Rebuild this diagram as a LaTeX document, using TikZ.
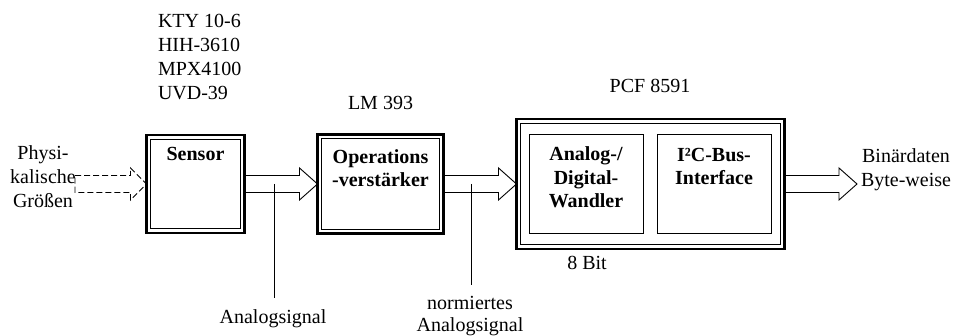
\documentclass[tikz,border=0pt]{standalone}
\usepackage{fontspec}
\setmainfont{Liberation Serif}
\usetikzlibrary{calc}

\tikzset{
  every node/.style={inner sep=0pt, outer sep=0pt,
    font=\fontsize{20}{23.5}\selectfont},
  blockbox/.style={draw, line width=2.8pt},
  innerbox/.style={draw, line width=0.9pt},
  boxtitle/.style={align=center, anchor=base,
    font=\fontsize{20}{23.5}\selectfont\bfseries},
  caption/.style={align=center, anchor=base},
  hollowarrow/.style={draw, line width=0.9pt, line join=miter},
  leader/.style={draw, line width=0.9pt},
}

% thin frame just inside a thick block border
\newcommand\innerframe[1]{%
  \draw[line width=0.9pt] ([shift={(4.3pt,4.3pt)}]#1.south west)
    rectangle ([shift={(-4.3pt,-4.3pt)}]#1.north east);}

% open-ended hollow block arrow from #2 to #3
\newcommand\blockarrow[3][]{%
  \draw[hollowarrow,#1] let \p1=(#2), \p2=(#3) in
    (\x1,\y1+8.5pt) -- (\x2-18pt,\y1+8.5pt) -- (\x2-18pt,\y1+16pt)
    -- (\x2,\y1) -- (\x2-18pt,\y1-16pt) -- (\x2-18pt,\y1-8.5pt)
    -- (\x1,\y1-8.5pt);}

\begin{document}
\begin{tikzpicture}[x=1pt,y=1pt]
\useasboundingbox (0,0) rectangle (953,336);

% blocks
\node[blockbox, minimum width=98pt, minimum height=98pt] (sensor) at (195.5,152) {};
\innerframe{sensor}
\node[blockbox, minimum width=126pt, minimum height=99pt] (opamp) at (380.5,152) {};
\innerframe{opamp}
\node[blockbox, minimum width=268pt, minimum height=130pt] (pcf) at (650.5,152) {};
\innerframe{pcf}
\node[innerbox, minimum width=114pt, minimum height=99pt] (adc) at (586,152.5) {};
\node[innerbox, minimum width=114pt, minimum height=99pt] (i2c) at (714,152.5) {};

% block titles (multi-line nodes sit on the baseline of their last line)
\node[boxtitle] (sensorlbl) at (195.5,175) {Sensor};
\node[boxtitle] (opamplbl) at (380.5,149) {Operations\\-verstärker};
\node[boxtitle] (adclbl) at (586,128) {Analog-/\\Digital-\\Wandler};
\node[boxtitle] (i2clbl) at (714,151) {I²C-Bus-\\Interface};

% part numbers and captions
\node[anchor=base west, align=left, font=\fontsize{20}{24.3}\selectfont]
  (parts) at (158,236) {KTY 10-6\\HIH-3610\\MPX4100\\UVD-39};
\node[caption] (lm) at (380.5,226) {LM 393};
\node[caption] (pcflbl) at (650,243) {PCF 8591};
\node[caption] (bits) at (587,66) {8 Bit};
\node[caption, font=\fontsize{20}{24}\selectfont] (phys) at (43,128) {Physi-\\kalische\\Größen};
\node[caption, font=\fontsize{20}{24}\selectfont] (bin) at (906,149) {Binärdaten\\Byte-weise};
\node[caption] (sig1) at (273,12) {Analogsignal};
\node[caption, font=\fontsize{20}{22}\selectfont] (sig2) at (470,4) {normiertes\\Analogsignal};

% signal flow
\coordinate (in0) at (75,152);
\coordinate (out0) at (857,152);
\draw[hollowarrow, dash pattern=on 6pt off 3pt]
  let \p1=(in0), \p2=(sensor.west) in
    (\x1,\y1+8.5pt) -- (\x2-16pt,\y1+8.5pt) -- (\x2-16pt,\y1+16pt)
    -- (\x2,\y1) -- (\x2-16pt,\y1-16pt) -- (\x2-16pt,\y1-8.5pt)
    -- (\x1,\y1-8.5pt) -- cycle;
\blockarrow{sensor.east}{opamp.west}
\blockarrow{opamp.east}{pcf.west}
\blockarrow{pcf.east}{out0}

% leader lines to the signal captions
\coordinate (a1) at (274,152);
\coordinate (a1end) at (274,38);
\draw[leader] (a1) -- (a1end);
\coordinate (a2) at (471,152);
\coordinate (a2end) at (471,51);
\draw[leader] (a2) -- (a2end);
\end{tikzpicture}
\end{document}
